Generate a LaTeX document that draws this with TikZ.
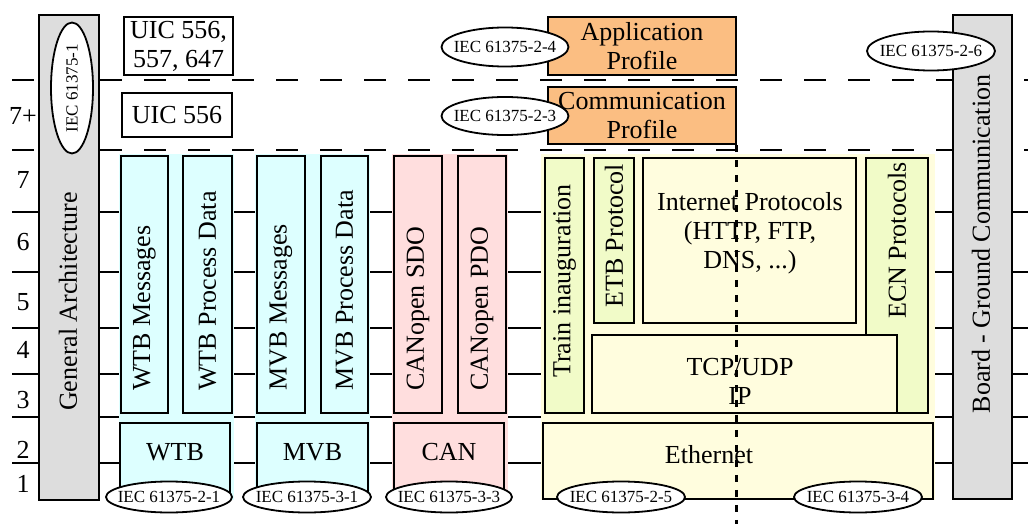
\documentclass[tikz,border=0pt]{standalone}
\usepackage{fontspec}
\setmainfont{Liberation Serif}
\usetikzlibrary{shapes.geometric}

\definecolor{barGray}{RGB}{221,221,221}
\definecolor{wtbCyan}{RGB}{221,255,255}
\definecolor{canPink}{RGB}{255,222,222}
\definecolor{ethYellow}{RGB}{255,253,222}
\definecolor{ethGreen}{RGB}{241,251,200}
\definecolor{profOrange}{RGB}{251,190,130}

\begin{document}
\begin{tikzpicture}[x=1pt, y=-1pt,
  every node/.style={font=\fontsize{26}{29}\selectfont},
  box/.style={draw, line width=1.8pt, inner sep=0pt, align=center},
  vtext/.style={rotate=90, inner sep=0pt, anchor=west},
  std/.style={draw, ellipse, fill=white, line width=1.8pt, inner xsep=-10pt, inner ysep=0pt, font=\fontsize{17}{19}\selectfont},
  layer/.style={line width=1.8pt},
  sublayer/.style={line width=1.8pt, dash pattern=on 22pt off 22pt},
  split/.style={line width=3pt, dash pattern=on 7pt off 8pt}]

\useasboundingbox (0,0) rectangle (1028,524);

\foreach \y in {80,150} \draw[sublayer] (12,\y) -- (1028,\y);
\foreach \y in {212,272,328,374,417,463} \draw[layer] (12,\y) -- (1028,\y);

\foreach \t/\y [count=\i] in {7+/116,7/180,6/242,5/302,4/350,3/400,2/450,1/484}
  \node (num\i) at (23,\y) {\t};

\fill[wtbCyan] (119,154) rectangle (234,500);
\fill[wtbCyan] (255,154) rectangle (370,500);
\fill[canPink] (392,154) rectangle (508,500);
\fill[ethYellow] (541,154) rectangle (935,500);

\node[box, fill=barGray, minimum width=60pt, minimum height=485pt] (genarch) at (69,257.5) {};
\node[box, fill=barGray, minimum width=59pt, minimum height=484pt] (gndcomm) at (982.5,257) {};
\node[rotate=90] (genarchtxt) at (68,301.5) {General Architecture};
\node[rotate=90] (gndcommtxt) at (981,244) {Board - Ground Communication};
\node[std, rotate=90, minimum width=131pt, minimum height=42pt] (iec1) at (72,88) {IEC 61375-1};

\node[box, minimum width=109pt, minimum height=58pt] (uicfull) at (178.5,46) {UIC 556,\\557, 647};
\node[box, minimum width=110pt, minimum height=44pt] (uic) at (177,115) {UIC 556};

\node[box, fill=profOrange, minimum width=188pt, minimum height=58pt] (appprof) at (642,46) {Application\\Profile};
\node[box, fill=profOrange, minimum width=188pt, minimum height=57pt] (comprof) at (642,115.5) {Communication\\Profile};
\node[std, minimum width=127pt, minimum height=39pt] (iec24) at (505,47) {IEC 61375-2-4};
\node[std, minimum width=127pt, minimum height=38pt] (iec23) at (505,116) {IEC 61375-2-3};
\node[std, minimum width=128pt, minimum height=39pt] (iec26) at (931,51) {IEC 61375-2-6};

\node[box, fill=wtbCyan, minimum width=47pt, minimum height=257pt] (wtbmsg) at (144.5,284.5) {};
\node[box, fill=wtbCyan, minimum width=49pt, minimum height=257pt] (wtbpd) at (207.5,284.5) {};
\node[box, fill=wtbCyan, minimum width=48pt, minimum height=257pt] (mvbmsg) at (281,284.5) {};
\node[box, fill=wtbCyan, minimum width=47pt, minimum height=257pt] (mvbpd) at (344.5,284.5) {};
\node[box, fill=canPink, minimum width=48pt, minimum height=257pt] (cansdo) at (418,284.5) {};
\node[box, fill=canPink, minimum width=48pt, minimum height=257pt] (canpdo) at (482,284.5) {};
\node[vtext] (wtbmsgtxt) at ([yshift=23pt]wtbmsg.south) {WTB Messages};
\node[vtext] (wtbpdtxt) at ([yshift=23pt]wtbpd.south) {WTB Process Data};
\node[vtext] (mvbmsgtxt) at ([yshift=23pt]mvbmsg.south) {MVB Messages};
\node[vtext] (mvbpdtxt) at ([yshift=23pt]mvbpd.south) {MVB Process Data};
\node[vtext] (cansdotxt) at ([yshift=23pt]cansdo.south) {CANopen SDO};
\node[vtext] (canpdotxt) at ([yshift=23pt]canpdo.south) {CANopen PDO};

\node[box, fill=wtbCyan, minimum width=110pt, minimum height=76pt] (wtb) at (175,461) {};
\node[box, fill=wtbCyan, minimum width=111pt, minimum height=76pt] (mvb) at (312.5,461) {};
\node[box, fill=canPink, minimum width=110pt, minimum height=76pt] (can) at (449,461) {};
\node (wtbtxt) at ([yshift=9pt]wtb.center) {WTB};
\node (mvbtxt) at ([yshift=9pt]mvb.center) {MVB};
\node (cantxt) at ([yshift=9pt]can.center) {CAN};

\node[box, fill=ethGreen, minimum width=39pt, minimum height=255pt] (train) at (564.5,285.5) {};
\node[box, fill=ethGreen, minimum width=40pt, minimum height=165pt] (etb) at (614,240.5) {};
\node[box, fill=ethYellow, minimum width=213pt, minimum height=165pt] (inet) at (749.5,240.5) {};
\node[box, fill=ethGreen, minimum width=62pt, minimum height=255pt] (ecn) at (897,285.5) {};
\node[box, fill=ethYellow, minimum width=305pt, minimum height=78pt] (tcp) at (744.5,374) {};
\node[box, fill=ethYellow, minimum width=390pt, minimum height=76pt] (eth) at (738,461) {};
\node[vtext] (traintxt) at ([yshift=36pt]train.south) {Train inauguration};
\node[vtext] (etbtxt) at ([yshift=16pt]etb.south) {ETB Protocol};
\node[vtext] (ecntxt) at ([yshift=95pt]ecn.south) {ECN Protocols};
\node[align=center] (inettxt) at (750,233) {Internet Protocols\\(HTTP, FTP,\\DNS, ...)};
\node[align=center] (tcptxt) at (740,381) {TCP/UDP\\IP};
\node (ethtxt) at (709,455) {Ethernet};

\node[std, minimum width=126pt, minimum height=31pt] (iec21) at (169,497) {IEC 61375-2-1};
\node[std, minimum width=128pt, minimum height=31pt] (iec31) at (307,497) {IEC 61375-3-1};
\node[std, minimum width=126pt, minimum height=31pt] (iec33) at (449,497) {IEC 61375-3-3};
\node[std, minimum width=128pt, minimum height=31pt] (iec25) at (621,497) {IEC 61375-2-5};
\node[std, minimum width=128pt, minimum height=31pt] (iec34) at (858,497) {IEC 61375-3-4};

\coordinate (cut) at (737,524);
\draw[split] (comprof.south east) -- (comprof.south east |- cut);

\end{tikzpicture}
\end{document}
